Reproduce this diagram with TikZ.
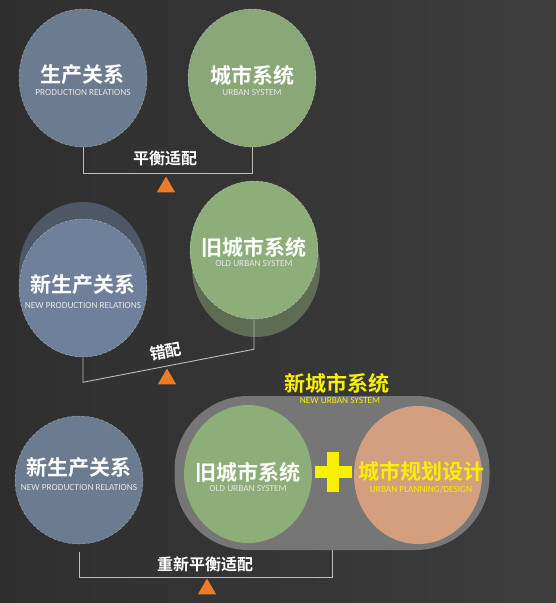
\documentclass[tikz,border=0pt]{standalone}
\usepackage{fontspec}
\setmainfont{Carlito}
\newfontfamily\cjkfont{Noto Sans CJK SC}[UprightFont=* Bold]
\usetikzlibrary{shapes.geometric, calc}

\definecolor{bgleft}{HTML}{2E2E2E}
\definecolor{bgright}{HTML}{3D3D3D}
\definecolor{prodblue}{HTML}{6B7B90}
\definecolor{urbangreen}{HTML}{8AA877}
\definecolor{newblue}{HTML}{6E809A}
\definecolor{newblueback}{HTML}{4E5766}
\definecolor{oldgreen}{HTML}{8DAE79}
\definecolor{oldgreenshadow}{HTML}{5D6C52}
\definecolor{pillgrey}{HTML}{767676}
\definecolor{planorange}{HTML}{D49F7F}
\definecolor{plusyellow}{HTML}{F7F000}
\definecolor{triorange}{HTML}{EF7A26}
\definecolor{bracketgrey}{HTML}{BDBDBD}

\begin{document}
\begin{tikzpicture}[x=1pt, y=-1pt,
    bubble/.style={ellipse, minimum width=128pt, minimum height=138pt, inner sep=0pt},
    dashedrim/.style={draw=white, draw opacity=0.4, densely dashed, line width=0.5pt},
    cnlabel/.style={font=\cjkfont\fontsize{21}{21}\selectfont, text=white, inner sep=0pt},
    enlabel/.style={font=\fontsize{9.3}{10}\selectfont, text=white!90!black, inner sep=0pt},
    tag/.style={font=\cjkfont\fontsize{16}{16}\selectfont, text=white, inner sep=0pt},
    bracket/.style={draw=bracketgrey, line width=0.9pt},
    marker/.style={regular polygon, regular polygon sides=3, fill=triorange, minimum size=21pt, inner sep=0pt}]

  \shade[left color=bgleft, right color=bgright] (0,0) rectangle (556,603);
  \path[use as bounding box] (0,0) rectangle (556,603);

  % balance
  \node[bubble, fill=prodblue, dashedrim] (prod) at (83,78) {};
  \node[bubble, fill=urbangreen, dashedrim] (urban) at (252,78) {};
  \node[cnlabel] (prodcn) at (83,75) {生产关系};
  \node[enlabel] (proden) at (83,93) {PRODUCTION RELATIONS};
  \node[cnlabel] (urbancn) at (252,75) {城市系统};
  \node[enlabel] (urbanen) at (252,93) {URBAN SYSTEM};
  \draw[bracket] (prod.south) -- ++(0,26) -| (urban.south);
  \node[tag] (balance) at (165,158) {平衡适配};
  \node[marker] (tri1) at (166,187) {};

  % mismatch
  \node[bubble, fill=newblueback] (newprodback) at (83,271) {};
  \node[bubble, fill=newblue, dashedrim] (newprod) at (83,288) {};
  \node[bubble, fill=oldgreenshadow] (oldurbanback) at (256,268) {};
  \node[bubble, fill=oldgreen, dashedrim] (oldurban) at (254,250) {};
  \node[cnlabel] (newprodcn) at (83,285) {新生产关系};
  \node[enlabel] (newproden) at (83,306) {NEW PRODUCTION RELATIONS};
  \node[cnlabel] (oldurbancn) at (254,247) {旧城市系统};
  \node[enlabel] (oldurbanen) at (254,264) {OLD URBAN SYSTEM};
  \draw[bracket] (newprod.south) -- ++(0,25)
    -- node[tag, sloped, midway, above=7pt] (mismatch) {错配} ($(oldurban.south)+(0,30)$)
    -- (oldurban.south);
  \node[marker] (tri2) at (167,379) {};

  % rebalance
  \node[cnlabel, text=plusyellow] (newsyscn) at (337,383) {新城市系统};
  \node[fill=pillgrey, rounded corners=74pt, minimum width=315pt, minimum height=154pt, inner sep=0pt] (newsys) at (332,473) {};
  \node[enlabel, text=plusyellow] (newsysen) at (340,401) {NEW URBAN SYSTEM};
  \node[bubble, fill=oldgreen] (oldurban2) at (248,474) {};
  \node[bubble, fill=planorange] (plan) at (418,475) {};
  \fill[plusyellow] (327,452) rectangle (339,492);
  \fill[plusyellow] (315,466) rectangle (352,478);
  \node[cnlabel] (oldurban2cn) at (248,472) {旧城市系统};
  \node[enlabel] (oldurban2en) at (248,489) {OLD URBAN SYSTEM};
  \node[cnlabel, text=plusyellow] (plancn) at (421,471) {城市规划设计};
  \node[enlabel, text=plusyellow] (planen) at (421,489) {URBAN PLANNING/DESIGN};
  \node[bubble, fill=prodblue, dashedrim, minimum height=128pt] (newprod2) at (79,480) {};
  \node[cnlabel] (newprod2cn) at (79,468) {新生产关系};
  \node[enlabel] (newprod2en) at (79,488) {NEW PRODUCTION RELATIONS};
  \draw[bracket, shorten <=8pt] (newprod2.south) -- ++(0,33) -| (newsys.south);
  \node[tag] (rebalance) at (205,564) {重新平衡适配};
  \node[marker] (tri3) at (207,589) {};
\end{tikzpicture}
\end{document}
